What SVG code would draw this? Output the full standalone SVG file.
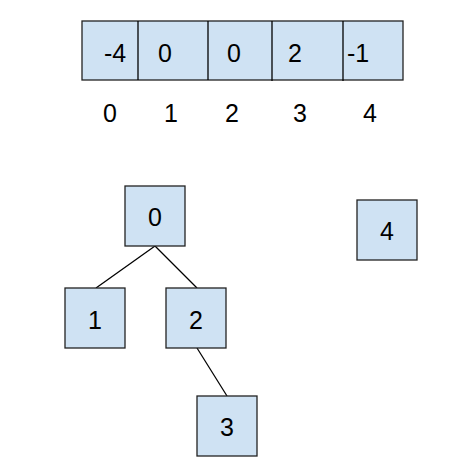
<svg xmlns="http://www.w3.org/2000/svg" width="450" height="474" viewBox="0 0 450 474">
<style>
.box{fill:#cfe2f3;stroke:#222;stroke-width:1.3}
.t{font-family:"Liberation Sans",Arial,sans-serif;font-size:25px;fill:#000;text-anchor:middle}
.e{stroke:#000;stroke-width:1.3;fill:none}
</style>
<rect width="450" height="474" fill="#fff"/>
<g id="array">
<rect class="box" x="82" y="21" width="321" height="59"/>
<line class="e" x1="138" y1="21" x2="138" y2="80"/>
<line class="e" x1="208" y1="21" x2="208" y2="80"/>
<line class="e" x1="272" y1="21" x2="272" y2="81"/>
<line class="e" x1="343" y1="21" x2="343" y2="81"/>
<text class="t" x="115" y="62">-4</text>
<text class="t" x="165" y="62">0</text>
<text class="t" x="234" y="62">0</text>
<text class="t" x="295" y="62">2</text>
<text class="t" x="358" y="62">-1</text>
</g>
<g id="indices">
<text class="t" x="110" y="122">0</text>
<text class="t" x="171" y="122">1</text>
<text class="t" x="232" y="122">2</text>
<text class="t" x="300" y="122">3</text>
<text class="t" x="370" y="122">4</text>
</g>
<g id="connectors">
<line class="e" x1="155" y1="246" x2="96" y2="288"/>
<line class="e" x1="155" y1="246" x2="197" y2="288"/>
<line class="e" x1="197" y1="348" x2="227" y2="396"/>
</g>
<g id="node0"><rect class="box" x="125" y="186" width="60" height="60"/><text class="t" x="155" y="226">0</text></g>
<g id="node1"><rect class="box" x="65" y="288" width="60" height="60"/><text class="t" x="95" y="329">1</text></g>
<g id="node2"><rect class="box" x="166" y="288" width="60" height="60"/><text class="t" x="196" y="329">2</text></g>
<g id="node3"><rect class="box" x="197" y="396" width="60" height="60"/><text class="t" x="227" y="436">3</text></g>
<g id="node4"><rect class="box" x="357" y="200" width="60" height="60"/><text class="t" x="387" y="240">4</text></g>
</svg>
